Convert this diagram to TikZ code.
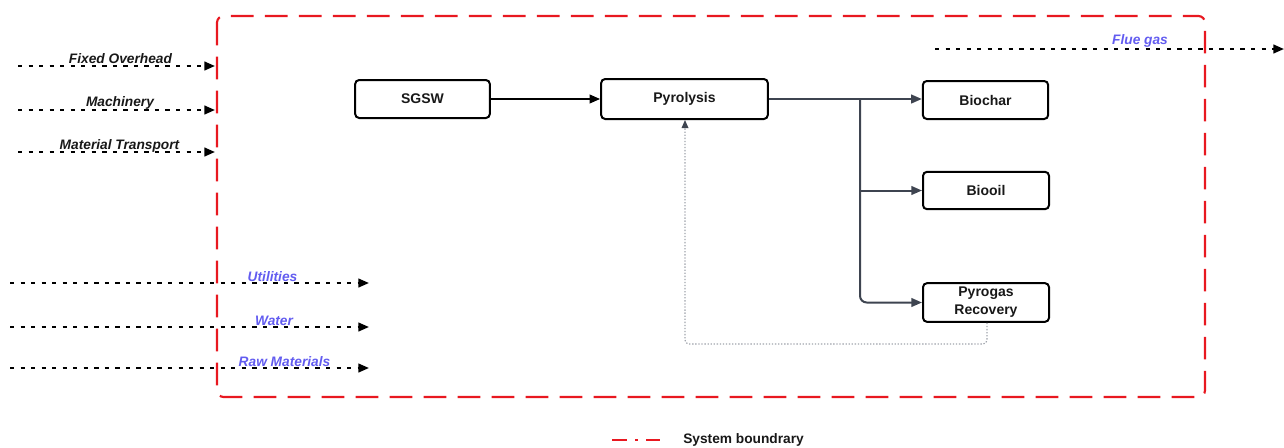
\documentclass[tikz,border=0pt]{standalone}
\usepackage{fontspec}
\setmainfont{Liberation Sans}
\usetikzlibrary{arrows.meta}
\definecolor{boundred}{RGB}{232,24,32}
\definecolor{flowblue}{RGB}{98,92,240}
\definecolor{linkgray}{RGB}{62,68,80}
\definecolor{loopgray}{RGB}{160,164,172}
\definecolor{boxtext}{RGB}{24,24,24}
\begin{document}
\begin{tikzpicture}[x=0.75pt,y=-0.75pt,
  proc/.style={draw=black, line width=1.5pt, rounded corners=3pt, fill=white,
    text=boxtext, font=\bfseries\fontsize{10.5}{13.5}\selectfont, align=center,
    inner sep=0pt},
  stream/.style={line width=1.6pt, dash pattern=on 3.2pt off 4.7pt,
    -{Triangle[length=8pt,width=6.5pt]}},
  inlab/.style={font=\bfseries\itshape\fontsize{10.3}{12}\selectfont, text=boxtext,
    inner sep=0pt, anchor=base},
  outlab/.style={inlab, text=flowblue},
  link/.style={draw=linkgray, line width=1.5pt, -{Triangle[length=8pt,width=6.5pt]}},
  boundary/.style={draw=boundred, line width=1.6pt, dash pattern=on 17pt off 8.5pt},
]
\useasboundingbox (0,0) rectangle (1284,447);

% system boundary
\draw[boundary, rounded corners=5pt] (217,16) rectangle (1205,397);

% process boxes
\node[proc, minimum width=101pt, minimum height=28.5pt] (sgsw) at (422.5,99) {SGSW};
\node[proc, minimum width=125pt, minimum height=30pt] (pyro) at (684.5,99) {Pyrolysis};
\node[proc, minimum width=94pt, minimum height=28.5pt] (bioc) at (985.5,100) {Biochar};
\node[proc, minimum width=94.5pt, minimum height=28pt] (bioo) at (986,190.5) {Biooil};
\node[proc, minimum width=94.5pt, minimum height=29pt] (pgas) at (986,302.5) {Pyrogas\\Recovery};

% main flow
\draw[line width=1.5pt, -{Triangle[length=8pt,width=6.5pt]}] (sgsw.east) -- (pyro.west);
\coordinate (split) at (860,99);
\draw[link] (pyro.east) -- (pyro.east -| bioc.west);
\draw[link] (split) |- (bioo.west);
\draw[link, rounded corners=5pt] (split) |- (pgas.west);

% pyrogas recycle to the reactor
\coordinate (rcA) at (987,344);
\coordinate (rcB) at (685,344);
\draw[draw=loopgray, line width=0.9pt, dash pattern=on 1pt off 1.3pt, rounded corners=3pt,
  -{Triangle[length=6pt,width=5pt,color=linkgray]}]
  (pgas.south -| rcA) -- (rcA) -- (rcB) -- (pyro.south -| rcB);

% inputs crossing the boundary
\coordinate (foS) at (18,66);   \coordinate (foE) at (215,66);
\coordinate (maS) at (18,110);  \coordinate (maE) at (215,110);
\coordinate (mtS) at (18,152);  \coordinate (mtE) at (215,152);
\draw[stream] (foS) -- (foE);
\draw[stream] (maS) -- (maE);
\draw[stream] (mtS) -- (mtE);
\node[inlab] (foL) at (120.5,63) {Fixed Overhead};
\node[inlab] (maL) at (120,106) {Machinery};
\node[inlab] (mtL) at (119.5,149) {Material Transport};

\coordinate (utS) at (10,283);  \coordinate (utE) at (369,283);
\coordinate (waS) at (10,327);  \coordinate (waE) at (369,327);
\coordinate (rmS) at (10,368);  \coordinate (rmE) at (369,368);
\draw[stream] (utS) -- (utE);
\draw[stream] (waS) -- (waE);
\draw[stream] (rmS) -- (rmE);
\node[outlab] (utL) at (272.5,281) {Utilities};
\node[outlab] (waL) at (274,325.5) {Water};
\node[outlab] (rmL) at (284.5,366) {Raw Materials};

% output leaving the boundary
\coordinate (fgS) at (935,49);  \coordinate (fgE) at (1284,49);
\draw[stream] (fgS) -- (fgE);
\node[outlab] (fgL) at (1140,44.5) {Flue gas};

% legend
\coordinate (lgS) at (612,440);  \coordinate (lgE) at (660,440);
\draw[draw=boundred, line width=1.6pt,
  dash pattern=on 11.25pt off 6pt on 2.25pt off 6pt on 11pt off 10pt]
  (lgS) -- (lgE);
\node[inner sep=0pt, anchor=west, text=boxtext, font=\bfseries\fontsize{10.3}{12}\selectfont]
  (lgT) at (683,440) {System boundrary};
\end{tikzpicture}
\end{document}
